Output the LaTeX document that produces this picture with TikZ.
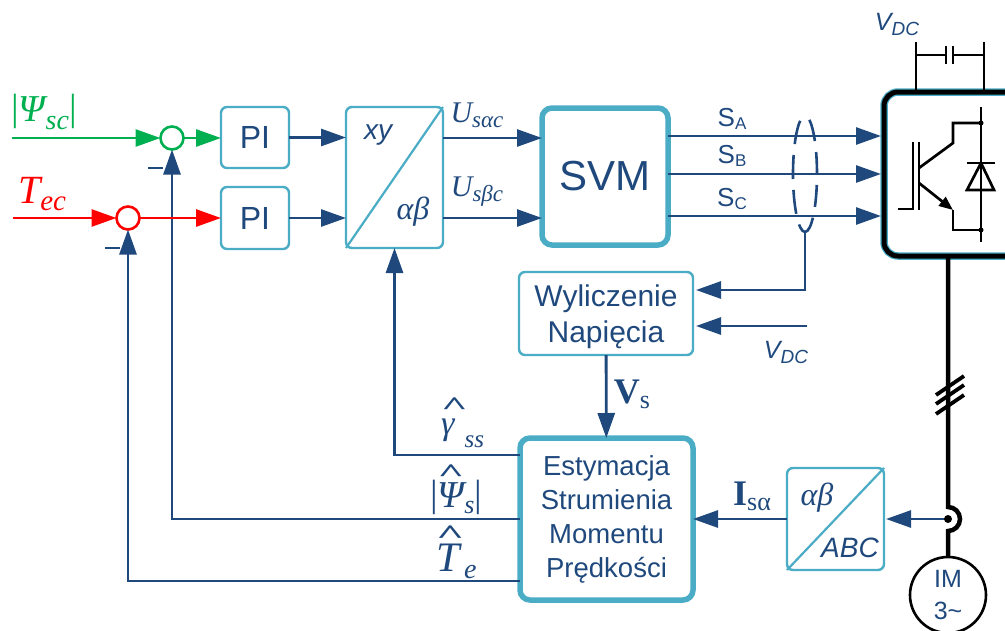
\documentclass[tikz,border=0pt]{standalone}
\usepackage{fontspec}
\setmainfont{Liberation Sans}
\newfontfamily\serif{Liberation Serif}
\usetikzlibrary{arrows.meta}
\definecolor{navy}{HTML}{1F497D}
\definecolor{teal}{HTML}{4BACC6}
\definecolor{grn}{HTML}{00B050}
\newcommand{\fs}[1]{\fontsize{#1}{#1}\selectfont}
\newcommand{\sbs}[3]{\raisebox{-#1pt}{\fs{#2}#3}}
% letter with a wide flat hat: raise, hat size, letter
\newcommand{\hatted}[3]{\ooalign{\hfil\raisebox{#1pt}{\scalebox{1.35}[0.75]{\fs{#2}\upshape\bfseries\textasciicircum}}\hfil\cr #3\cr}}
\tikzset{
  arr/.style={line width=2.8pt, draw=navy, -{Triangle[length=25pt,width=17pt]}},
  grnarr/.style={arr, draw=grn},
  redarr/.style={arr, draw=red},
  wire/.style={line width=2.6pt, draw=navy},
  blk/.style={line width=2.7pt, draw=black},
  box/.style={draw=teal, line width=2.4pt, fill=white, rounded corners=6pt, inner sep=0pt, outer sep=0pt, text=navy, align=center},
  bigbox/.style={box, line width=5.5pt, rounded corners=10pt},
  sumnode/.style={circle, fill=white, line width=2.6pt, minimum size=23pt, inner sep=0pt, outer sep=0pt},
  lbl/.style={inner sep=0pt, outer sep=0pt, text=navy},
  baselbl/.style={lbl, anchor=base west},
}
\begin{document}
\begin{tikzpicture}[x=1pt,y=-1pt]
\useasboundingbox (0,0) rectangle (1005,630);
% blocks
\node [box, minimum width=68pt, minimum height=61pt, font=\fs{32}] (pione) at (255,137.5) {PI};
\node [box, minimum width=68pt, minimum height=62pt, font=\fs{32}] (pitwo) at (255,218) {PI};
\node [box, minimum width=97pt, minimum height=141pt] (xy) at (394.5,177.5) {};
\node [bigbox, minimum width=126pt, minimum height=137pt, font=\fs{42}] (svm) at (605,176.5) {SVM};
\node [box, minimum width=174pt, minimum height=83pt, font=\fs{30}] (wyl) at (606,313.5) {\rule{0pt}{29pt}Wyliczenie\\[6pt]Napięcia};
\node [bigbox, minimum width=173pt, minimum height=162pt, font=\fs{27.5}] (est) at (606.5,519) {Estymacja\\[6.5pt]Strumienia\\[6.5pt]Momentu\\[6.5pt]Prędkości};
\node [box, minimum width=97pt, minimum height=102pt] (abc) at (835.5,519) {};
\node [sumnode, draw=grn] (sumone) at (172,138) {};
\node [sumnode, draw=red] (sumtwo) at (128,218) {};
\node [draw=black, line width=2.6pt, circle, minimum size=76pt, inner sep=0pt, outer sep=0pt, text=navy, align=center, font=\fs{25}] (im) at (948,595) {IM\\[7pt]3\textasciitilde};
% diagonals
\draw [draw=teal, line width=2.2pt] (xy.south west) -- (xy.north east);
\draw [draw=teal, line width=2.2pt] (abc.south west) -- (abc.north east);
% free ends
\coordinate (psistart) at (12,138);
\coordinate (tstart) at (13,218);
\coordinate (busbot) at (805,232);
\coordinate (bustop) at (805,116);
\coordinate (vdcin) at (807,326);
\coordinate (sao) at (668,136);
\coordinate (sbo) at (668,174);
\coordinate (sco) at (668,216);
\coordinate (sai) at (881,136);
\coordinate (sbi) at (881,174);
\coordinate (sci) at (881,216);
\coordinate (tapin) at (948,519);
\coordinate (jumptop) at (948,507);
% inverter
\draw [draw=teal, line width=7.5pt, rounded corners=14pt] (1030,92) -- (884,92) -- (884,256) -- (1030,256);
\draw [draw=black, line width=5pt, rounded corners=14pt] (1030,92) -- (884,92) -- (884,256) -- (1030,256);
\node [inner sep=0pt, minimum size=0pt] (inv) at (948,256) {};
% inputs
\draw [grnarr] (psistart) -- (sumone);
\draw [grnarr] (sumone) -- (pione.west |- sumone);
\draw [arr] (est.west |- 0,519) -| (sumone);
\draw [redarr] (tstart) -- (sumtwo);
\draw [redarr] (sumtwo) -- (pitwo);
\draw [arr] (est.west |- 0,581) -| (sumtwo);
\draw [arr] (est.west |- 0,455) -| (xy);
% forward path
\draw [arr] (pione) -- (xy.west |- pione);
\draw [arr] (pitwo) -- (xy.west |- pitwo);
\draw [arr] (xy.east |- 0,138) -- (svm.west |- 0,138);
\draw [arr] (xy.east |- 0,218) -- (svm.west |- 0,218);
\draw [arr] (sao) -- (sai);
\draw [arr] (sbo) -- (sbi);
\draw [arr] (sco) -- (sci);
% bus ellipse
\draw [wire, dash pattern=on 24pt off 11pt, dash phase=28pt] (bustop) arc [start angle=-90, end angle=-270, x radius=12, y radius=58];
\draw [wire, dash pattern=on 22pt off 11pt, dash phase=27pt] (bustop) arc [start angle=-90, end angle=90, x radius=12, y radius=58];
\draw [arr, shorten >=3pt] (busbot) |- (wyl.east |- 0,290);
\draw [arr, shorten >=3pt] (vdcin) -- (wyl.east |- vdcin);
\draw [arr] (wyl) -- (est);
\draw [arr] (abc.west |- est) -- (est);
\draw [arr, shorten >=2pt] (tapin) -- (abc);
\fill [black] (tapin) circle (4pt);
% motor line
\draw [draw=black, line width=4.5pt] (inv) -- (jumptop) arc [start angle=-90, end angle=90, radius=12] -- (im);
\draw [draw=black, line width=3.8pt] (936,395) -- (964,376);
\draw [draw=black, line width=3.8pt] (936,404) -- (964,385);
\draw [draw=black, line width=3.8pt] (936,414) -- (964,395);
% capacitor
\draw [blk] (916,42) -- (916,90);
\draw [blk] (984,42) -- (984,90);
\draw [blk] (916,55) -- (946,55);
\draw [blk] (953,55) -- (984,55);
\draw [blk] (946,46) -- (946,64);
\draw [blk] (953,46) -- (953,64);
% transistor
\draw [blk] (898,209) -- (913,209);
\draw [blk] (913,142) -- (913,210);
\draw [blk] (919,142) -- (919,210);
\draw [blk] (919,168) -- (953,143) -- (953,123) -- (981,123);
\draw [blk] (981,107) -- (981,242);
\draw [blk, -{Triangle[length=14pt,width=11pt]}] (919,183) -- (953,210);
\draw [blk] (953,210) -- (953,230) -- (981,230);
\draw [blk] (967,163) -- (995,163);
\draw [blk] (981,163) -- (994,190) -- (967,190) -- cycle;
\fill [black] (981,123) circle (2.5pt);
\fill [black] (981,230) circle (2.5pt);
% labels
\node [lbl, text=grn] (lblpsi) at (44,112) {\serif\fs{38}\itshape\raisebox{1pt}{\upshape|}Ψ\sbs{8}{28}{sc}\raisebox{1pt}{\upshape|}};
\node [lbl, text=red] (lblt) at (42,194) {\serif\fs{40}\itshape T\sbs{7}{29}{ec}};
\node [lbl] (minone) at (155.5,168) {\rule{15pt}{2.4pt}};
\node [lbl] (mintwo) at (112.5,248) {\rule{15pt}{2.4pt}};
\node [lbl, font=\fs{28}\itshape] (lblxy) at (378,135) {xy};
\node [lbl] (lblab) at (413,212) {\serif\fs{32}\itshape αβ};
\node [lbl] (lblua) at (477,115) {\serif\fs{30}\itshape U\sbs{5}{23}{sαc}};
\node [lbl] (lblub) at (477,192) {\serif\fs{30}\itshape U\sbs{5}{23}{sβc}};
\node [lbl, font=\fs{26}] (lblsa) at (732,119) {S\sbs{3}{17}{A}};
\node [lbl, font=\fs{26}] (lblsb) at (732,156) {S\sbs{3}{17}{B}};
\node [lbl, font=\fs{26}] (lblsc) at (732,199) {S\sbs{3}{17}{C}};
\node [lbl, font=\fs{25}\itshape] (lblvdc) at (897,24) {V\sbs{5}{19}{DC}};
\node [lbl, font=\fs{25}\itshape] (lblvdctwo) at (786,352) {V\sbs{5}{19}{DC}};
\node [lbl] (lblvs) at (632,394) {\serif\fs{36}\bfseries V\sbs{5}{26}{\mdseries s}};
\node [lbl] (lblis) at (752,496) {\serif\fs{36}\bfseries I\sbs{5}{26}{\mdseries sα}};
\node [lbl] (lblabtwo) at (817,498) {\serif\fs{32}\itshape αβ};
\node [lbl, font=\fs{28}\itshape] (lblabc) at (850,548) {ABC};
\node [baselbl] (lblgam) at (441,434) {\serif\fs{34}\itshape\hatted{20}{34}{γ}\hspace{-3pt}\sbs{13}{25}{ss}};
\node [baselbl] (lblps) at (430,507) {\serif\fs{38}\itshape\raisebox{1pt}{\upshape|}\hatted{26}{34}{Ψ}\sbs{6}{26}{s}\raisebox{1pt}{\upshape|}};
\node [baselbl] (lblte) at (436,571) {\serif\fs{42}\itshape\hatted{28}{36}{T}\sbs{7}{28}{e}};
\end{tikzpicture}
\end{document}
